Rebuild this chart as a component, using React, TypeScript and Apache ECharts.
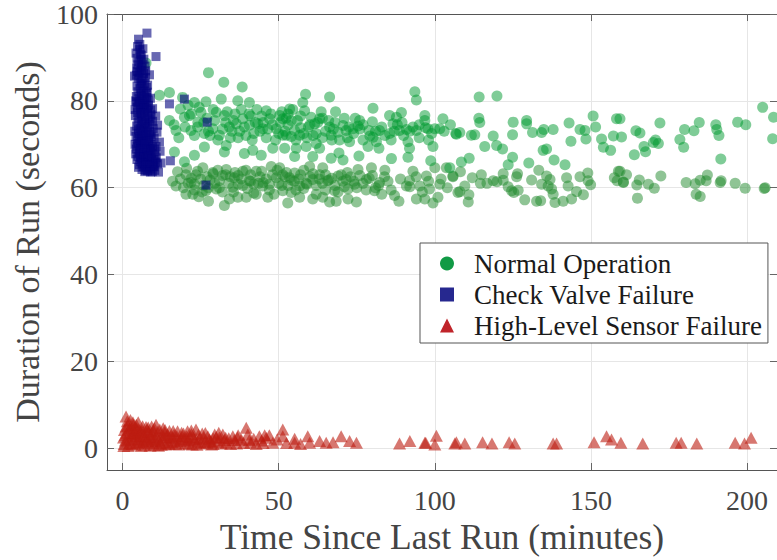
import React, { useEffect, useRef } from "react";
import * as echarts from "echarts";

const xTicks = [0, 50, 100, 150, 200];
const yTicks = [0, 20, 40, 60, 80, 100];

const seriesNames = ["Normal Operation", "Check Valve Failure", "High-Level Sensor Failure"];

// Normal operation, upper band (brighter green)
const normalUpper: number[][] = [
  [27.5, 86.5], [32.4, 84.3], [38.3, 83.2], [7.5, 88.7], [11.8, 81.3], [15, 81.9], [19.2, 80.8], [23, 79.6],
  [26.7, 79.8], [31.6, 80.4], [36.9, 80], [40.6, 79.6], [46, 77.7], [18.5, 78.1], [19.8, 76.2], [15, 75.5],
  [17.1, 73.2], [21.9, 73.2], [24.1, 75.1], [21.4, 76.6], [25.1, 77.4], [30, 77.4], [32.6, 76.6], [34.2, 74],
  [28.9, 73.6], [26.2, 72.5], [31, 72.1], [36.4, 74.7], [38.5, 75.9], [40.6, 74.4], [43.3, 74.7], [44.9, 73.6],
  [47.1, 75.9], [49.2, 73.6], [51.3, 75.9], [52.4, 72.1], [33.2, 69.7], [26.2, 69.4], [32.6, 68.2], [39, 67.9],
  [41.7, 68.6], [44.4, 67.5], [48.1, 69.1], [23, 67.5], [16.6, 68.2], [19.8, 66],
  [58.6, 81.5], [66.3, 80.9], [57.7, 79.6], [93.6, 82.1], [94.1, 80.2], [80.2, 78.3], [68.2, 77.5], [63.6, 77.5],
  [53.5, 78.1], [54.5, 78], [50.3, 76.6], [52.4, 76], [58.3, 77.7], [60.4, 76.2], [61.5, 74.7], [63.1, 75.9],
  [66.3, 74], [66.8, 72.1], [70.6, 74.3], [71.6, 73.2], [73.8, 73.6], [75.9, 75.5], [77, 74.5], [78.9, 73.2],
  [79.2, 71.9], [78.6, 69.5], [81.3, 70.6], [82.1, 69.1], [82.3, 73.2], [85.5, 76.6], [86.6, 74.7], [87.7, 76.2],
  [89.3, 77.3], [85.5, 72.5], [88.7, 73.2], [90.9, 73.4], [91.4, 70.6], [91.9, 69.1], [91.4, 67], [94.1, 73.2],
  [96.8, 76.6], [96.8, 75.5], [97.8, 73.6], [100, 73.6], [101.6, 73.6], [102.6, 75.9], [99.4, 69.5], [98.7, 66.2],
  [106.7, 72.5], [86.1, 66.7], [75.7, 67.3], [69.3, 68], [70.6, 66.4], [66.8, 66.8], [56.7, 72.1], [55.1, 73.2],
  [51.3, 72.1], [55.6, 69.1], [58.8, 69.5], [62, 70.2], [63.1, 69.1], [60.9, 67.2], [55.1, 67.2], [51.9, 69.1],
  [75.4, 74.2], [72.7, 70.6], [80.2, 71.6],
  [114.2, 80.9], [119.9, 81.1], [114.1, 76], [114.4, 75], [106.9, 72.3], [108, 72.7], [111.7, 72.1], [112.8, 72.2],
  [118.7, 71.9], [125.1, 75.1], [129.4, 75.5], [129.4, 74.7], [124.9, 72.2], [131.3, 72.7], [134.2, 72.7], [134.9, 73.4],
  [137.9, 73.4], [135.8, 68.9], [134.7, 68.6], [116, 69.5], [119.8, 69.7], [121.7, 68.9], [124.9, 67], [123.5, 65.3],
  [130.1, 65.7], [138.2, 66.4], [141.7, 65.3], [143, 74.9], [143.6, 70.7], [146.5, 73.4], [148.1, 73.2], [148.4, 71.2],
  [150.7, 76.5], [151.5, 74], [153.4, 71.2], [154, 69.3], [156.3, 68.6], [158.2, 75.9], [157.2, 71.9], [159.8, 71.7],
  [111, 66.8], [108.5, 65.9], [104.8, 64.6],
  [205, 78.5], [208.5, 76.2], [208.2, 71.3], [197, 75.1], [199.6, 74.5], [190, 74.5], [190.3, 73.4], [191, 72],
  [191.6, 66.6], [184.7, 75], [183, 73.1], [180, 73.4], [178.5, 71.1], [179.7, 69.3], [172.1, 74.9], [170.7, 71],
  [170, 70.4], [171.6, 70.2], [167, 69.5], [167.5, 68.3], [163.9, 67.6], [164.4, 73.1], [165.7, 72.6], [159.3, 75.9],
  [22, 77], [24, 74], [27, 76], [28, 72], [29, 78], [33, 75], [35, 73], [36, 77], [37, 71.5], [39, 74], [41, 76.5],
  [42, 72.5], [43, 78], [45, 75], [46, 71.5], [48, 74.5], [50, 72.5], [51, 77.5], [53, 74.5], [54, 71.8], [56, 75.5],
  [57, 73.8], [59, 71.5], [60, 74.5], [62, 72.5], [64, 76], [65, 73], [67, 71], [68, 75], [69, 72.8], [71, 76],
  [72, 71.5], [74, 72.5], [76, 73.5], [77, 71], [80, 75.2], [81, 73], [84, 72], [86, 71], [88, 74.5], [90, 72],
  [93, 74], [95, 71.5], [97, 73.8], [99, 72.5], [103, 73], [105, 74.5],
  [16.5, 74.5], [18, 71.5], [20, 74], [21, 79], [23, 72], [24.5, 78.5], [26, 75], [27.5, 73], [29.5, 75.5], [30.5, 71],
  [32, 73.5], [33.5, 77.5], [34.5, 71.5], [35.5, 75.5], [37.5, 73], [38, 78], [39.5, 72], [40.5, 77], [41.5, 71],
  [42.5, 75], [44, 73], [44.5, 76.5], [46.5, 73.5], [47.5, 77], [49, 71], [50.5, 75], [52, 73], [53, 77], [54, 75.5],
  [55.5, 71], [57, 76.5], [58, 72.5], [59.5, 74], [61, 72], [62.5, 75], [64, 71.5], [66, 75.5], [67.5, 73.5], [69.5, 71],
  [72.5, 74], [74.5, 76], [83, 74], [87, 73], [89.5, 75], [92, 73], [95, 74.5], [98, 71],
];

// Normal operation, lower band (duller green)
const normalLower: number[][] = [
  [17.6, 63.7], [16, 61.5], [17.1, 60.4], [20.3, 63], [23.5, 63], [21.9, 61.2], [25.7, 64.6], [28.9, 63.5],
  [31, 61.6], [33.2, 64.2], [35.8, 62.3], [38.5, 63.8], [40.6, 61.6], [42.8, 63.8], [44.9, 60.4], [47.6, 64.9],
  [49.2, 62.3], [51.3, 59.3], [20.3, 58.5], [22.5, 58.5], [24.4, 57.9], [27.5, 56.9], [32.6, 55.9], [34.2, 57.4],
  [36.9, 57.8], [39.6, 57.8], [42.8, 58.5], [46.5, 57.8], [30, 59.7], [35.3, 60.1], [26.7, 59.3],
  [50.3, 64.6], [51.3, 63], [53.5, 62.3], [55.1, 63.4], [59.9, 64.9], [64.1, 64.6], [63.1, 63], [60.9, 61.9],
  [58.8, 61], [56.7, 60.4], [54, 58.9], [52.9, 56.5], [56.7, 57.8], [60.9, 57.4], [64.1, 57.8], [65.7, 61.6],
  [67.9, 59.3], [69, 62.7], [71.6, 61.9], [72.2, 59.7], [75.4, 64.2], [74.3, 60.8], [74.9, 56.7], [72.2, 57.4],
  [68.4, 56.9], [78.1, 61.9], [79.7, 64.6], [80.7, 59.3], [82.3, 61.2], [83.9, 62.5], [87.1, 58.2], [88.5, 56.9],
  [90.9, 60.4], [91.9, 61.6], [93, 63.8], [94.1, 57.4], [95.2, 60.4], [97.3, 62.7], [96.8, 57.4], [99.4, 56.5],
  [98.3, 59.7], [101, 57.8], [101.6, 60.8], [103.7, 64.6], [105.8, 62.7], [107.4, 58.9], [100, 64.6], [66.3, 56.7],
  [105.8, 62.5], [108.2, 63.7], [109.6, 60.4], [108, 59.1], [110.9, 58.4], [110.7, 56.7], [112, 62.3], [114.9, 63],
  [114.6, 61], [116.7, 61], [118.7, 61.6], [119.9, 61.4], [121.9, 63.2], [121.9, 61.7], [123.5, 60.2], [124.6, 59.3],
  [125.3, 58.9], [126.7, 59.4], [126.5, 63.2], [126.2, 62.5], [128.8, 57.2], [131, 61.8], [133.3, 64], [132.6, 56.9],
  [133.9, 57], [134.2, 60.8], [135.8, 62.7], [136.3, 60.4], [136.9, 61.9], [137.4, 59.7], [137.9, 58.5], [138.5, 56.6],
  [141.1, 56.9], [142.2, 62.3], [142.7, 60.4], [143.8, 57.4], [145.4, 59.1], [146.5, 62.5], [147.6, 58.4], [149, 63.4],
  [149.1, 61.6], [149.9, 60.7], [157.5, 62.3], [158.8, 63.8], [158.4, 61.6], [160.4, 61.2],
  [205.8, 60], [205.5, 59.8], [199.4, 59.9], [196.2, 61], [191.7, 61.6], [191.4, 61.2], [187.3, 62.9], [186.9, 61.6],
  [185, 61.7], [183.4, 60.9], [180.5, 61.2], [183.7, 58.5], [185, 58], [172.4, 62.7], [170.3, 59.9], [168.4, 60.8],
  [165.5, 61.8], [164.7, 60.6], [164.9, 57.6], [161.4, 63], [160.4, 61.3], [159.3, 63.8],
  [21, 61], [23, 59.5], [25, 62], [26, 60.5], [28, 61.8], [29, 63.2], [31, 60], [32, 62.8], [34, 61], [36, 63.5],
  [37, 60.8], [38, 62], [40, 59.8], [41, 63], [42, 60.8], [44, 62.5], [45, 61.2], [47, 59.5], [48, 63], [50, 61],
  [52, 62.5], [53, 60.5], [55, 61.5], [57, 63], [58, 59.8], [60, 62.5], [62, 60.5], [63, 62], [65, 59.5], [66, 61.8],
  [68, 60.5], [70, 63], [71, 60.2], [73, 62.5], [75, 60], [77, 61], [79, 62.2], [81, 60], [83, 58.5], [85, 61.5],
  [86, 59.5], [89, 62], [92, 60.2], [94, 62.5], [96, 59], [98, 61.5], [102, 62], [104, 60],
  [18.5, 62], [19.5, 60], [20.5, 64.5], [22, 62.2], [23, 60.8], [24, 63.8], [25.5, 59], [27, 62.5], [27.5, 60],
  [29.5, 61], [30.5, 64], [32, 59], [33, 63], [34.5, 62.5], [35.5, 59], [37, 62.8], [38.5, 60.5], [39.5, 64], [41, 61.5],
  [42, 58.8], [43.5, 61], [44.5, 63.8], [46, 62], [47, 60.8], [48.5, 58.5], [49.5, 64], [51, 60.5], [52.5, 63.5],
  [54, 61.8], [55.5, 59.5], [56.5, 62], [58, 64], [59, 60.8], [61, 63.2], [62, 58.5], [64, 61], [65, 63], [67, 62.2],
  [69, 59], [70.5, 61.5], [72, 63.5], [74, 61.5], [76, 62.8], [78, 59.5], [80, 62.8], [82, 60.5], [84, 64],
];

const checkValve: number[][] = [
  [5.1, 94.2], [7.8, 95.6], [4.8, 92.5], [5.5, 91.8], [6.0, 90.5], [4.6, 89.8], [5.2, 89.0], [6.3, 88.4], [4.5, 87.6],
  [5.8, 87.0], [6.7, 86.3], [4.4, 85.9], [3.8, 85.7], [5.0, 85.2], [6.0, 84.6], [7.0, 84.0], [4.6, 83.4], [5.6, 82.8],
  [6.8, 82.3], [7.6, 81.7], [4.4, 81.0], [5.3, 80.5], [6.4, 80.0], [7.5, 79.6], [8.3, 79.0], [4.7, 78.5], [5.8, 78.0],
  [6.9, 77.6], [8.0, 77.2], [9.1, 76.8], [4.1, 76.6], [5.2, 76.0], [6.3, 75.5], [7.4, 75.0], [8.5, 74.6], [4.5, 74.2],
  [5.6, 73.6], [6.7, 73.1], [7.9, 72.7], [9.1, 72.3], [4.3, 71.8], [5.4, 71.3], [6.6, 70.9], [7.8, 70.4], [9.0, 70.0],
  [4.6, 69.6], [5.7, 69.1], [6.9, 68.7], [8.1, 68.3], [9.3, 67.9], [10.4, 67.5], [4.9, 67.2], [6.1, 66.8], [7.3, 66.4],
  [8.5, 66.0], [9.7, 65.6], [5.4, 65.3], [6.6, 64.9], [7.8, 64.6], [9.0, 64.3], [10.1, 64.8], [11.5, 63.6], [15.3, 66.2],
  [10.7, 69.5], [9.1, 71.7], [11.2, 74.4], [15.0, 79.3], [19.8, 80.4], [10.7, 90.2], [8.6, 86.0], [27.1, 75.1], [26.7, 60.6],
  [5.5, 93], [6.5, 92], [5.9, 89.5], [7.2, 88], [5.3, 86.5], [6.2, 83.5], [7.9, 82], [5.0, 79.5], [6.0, 76.8], [7.0, 79],
  [8.8, 75.8], [5.0, 72.5], [6.0, 72], [7.2, 74], [8.4, 71.2], [5.0, 70.2], [6.2, 70.5], [7.5, 69.5], [8.7, 69], [5.3, 68],
  [6.4, 67.6], [7.6, 67.3], [8.8, 66.9], [10.0, 66.5], [5.8, 66], [7.0, 65.6], [8.2, 65.3], [9.4, 65], [10.6, 65.9],
  [6.2, 64.2], [8.0, 63.9], [9.5, 63.7], [12.0, 68.4], [11.0, 72.8], [9.6, 78.2], [8.9, 80.6], [8.0, 83.6], [7.3, 85.4],
  [4.2, 80], [4.0, 78], [3.9, 73], [4.0, 70], [4.2, 67.8], [6.5, 78.8], [7.7, 80.8], [5.9, 81.6], [6.6, 71.9], [7.1, 63.7],
  [4.3, 91], [5.7, 90.8], [6.8, 89.6], [4.9, 88.3], [6.1, 87.5], [7.4, 86.9], [4.7, 86.8], [5.6, 84.1], [6.5, 85.2],
  [7.6, 83.1], [4.9, 82.1], [6.0, 81.2], [7.0, 80.9], [8.2, 80.2], [4.5, 79.8], [5.6, 79.2], [6.8, 78.4], [7.9, 78.3],
  [9.0, 77.9], [4.8, 77.3], [5.9, 77.1], [7.1, 76.4], [8.2, 76.0], [9.6, 75.3], [4.9, 75.1], [6.0, 74.6], [7.0, 74.8],
  [8.1, 73.9], [9.8, 73.6], [5.1, 73.3], [6.3, 72.6], [7.4, 72.1], [8.6, 72.9], [10.1, 71.4], [4.8, 71.0], [5.9, 70.6],
  [7.1, 70.0], [8.3, 70.8], [9.6, 69.4], [4.4, 68.9], [5.5, 68.5], [6.7, 68.1], [7.9, 68.9], [9.0, 68.6], [10.2, 68.9],
  [4.6, 66.5], [5.7, 67.0], [6.9, 67.0], [8.1, 67.4], [9.3, 66.6], [10.8, 66.9], [5.1, 64.7], [6.3, 65.6], [7.5, 65.2],
  [8.7, 64.9], [9.9, 65.0], [11.2, 65.5], [7.3, 64.0], [8.9, 63.6], [10.3, 64.0], [12.3, 65.7], [11.8, 70.5], [10.6, 76.5],
];

const sensorFailure: number[][] = [
  [0.5, 1], [0.8, 3], [1.1, 5], [1.1, 7.3], [1.5, 6.2], [2, 2], [2.2, 4.5], [2.5, 6.5], [3, 1], [3.2, 3.5], [3.5, 5.5],
  [4, 0.8], [4.2, 2.8], [4.5, 4.6], [5, 6], [5.5, 1.5], [5.8, 3.8], [6.4, 5.1], [7, 0.8], [7.2, 2.5], [7.8, 4.3],
  [8.5, 1.2], [8.8, 3.2], [9.3, 5.0], [10, 0.8], [10.3, 2.2], [10.7, 5.4], [11.2, 3.8], [12, 1.2], [12.5, 3.0], [13, 4.6],
  [13.8, 0.9], [14.2, 2.4], [15, 4.0], [15.8, 1.4], [16.5, 3.2], [17.6, 3.9], [18, 0.9], [18.7, 2.2], [19.5, 3.4],
  [20.2, 1.2], [20.8, 3.9], [21.5, 2.6], [22.3, 0.9], [23.5, 4.3], [23, 2], [24.3, 3.1], [25, 1.1], [26, 2.4], [27.8, 2.0],
  [28.5, 0.9], [29.5, 3.2], [30.5, 1.5], [32.1, 3.2], [33.2, 1.3], [34, 2.3], [35.3, 2.8], [36.5, 1.1], [38, 2], [39.6, 4.7],
  [40.1, 3.2], [41, 1.3], [42, 2.2], [43.8, 2.8], [45, 1.2], [46, 2.4], [48.1, 1.3], [49.5, 2.0], [51.3, 4.3], [51.3, 2.8],
  [52.5, 1.2], [55.1, 1.3], [55.1, 2.2], [57, 1.0], [59.3, 2.8], [59.9, 1.3], [63.1, 1.7], [65.2, 1.3], [67.4, 1.4], [70, 2.8],
  [72.7, 1.7], [74.9, 1.3], [88.7, 1.1], [92, 1.7], [96.8, 1.3], [97.1, 1.3], [100.5, 2.9], [100, 0.9], [106.4, 1.1],
  [106.9, 1.4], [109.6, 1.1], [115.3, 1.4], [118.3, 1.1], [123.8, 1.4], [125.6, 1.1], [137.9, 1.1], [139, 1.1], [151, 1.4],
  [155, 2.8], [156.6, 2.0], [159.6, 1.3], [166.6, 1.1], [177.3, 1.3], [178.9, 1.3], [183.9, 1.1], [196.2, 1.3], [199.2, 1.1],
  [201.3, 2.4],
  [0.3, 2.5], [0.6, 4.2], [1.8, 0.5], [2.8, 2.8], [3.8, 4.0], [4.8, 3.2], [5.2, 2.0], [6, 0.5], [6.8, 3.6], [7.5, 1.8],
  [8.2, 4.8], [9, 2.6], [9.8, 4], [10.5, 1.5], [11.5, 0.6], [12.8, 2], [13.5, 3.6], [14.6, 1.3], [16, 2.4], [17, 1.0],
  [19, 2.8], [21, 1.8], [22, 3.3], [24, 1.5], [26.5, 3.5], [27, 1.3], [29, 2.3], [31, 2.5], [33, 2.4], [37, 3.0],
  [38.8, 1.2], [44.5, 1.8], [47, 3.0],
  [0.4, 0.5], [0.9, 1.8], [1.4, 3.6], [1.7, 5.2], [2.3, 1.2], [2.6, 3.3], [3.0, 4.8], [3.3, 6.0], [3.6, 2.1], [4.0, 3.6],
  [4.4, 5.4], [4.7, 1.2], [5.2, 4.4], [5.6, 2.8], [6.1, 4.0], [6.6, 1.5], [7.0, 3.0], [7.5, 4.9], [8.0, 2.2], [8.3, 3.8],
  [8.8, 0.6], [9.4, 1.8], [9.6, 3.4], [10.2, 4.6], [10.9, 2.8], [11.6, 1.8], [11.9, 4.3], [12.4, 0.8], [13.2, 2.6],
  [13.6, 4.2], [14.4, 3.2], [14.9, 1.0], [15.5, 2.8], [16.2, 4.0], [16.8, 1.8], [17.4, 2.8], [18.3, 1.6], [18.9, 3.6],
  [19.8, 2.0], [20.5, 2.8], [21.3, 1.0], [22.0, 4.1], [22.7, 2.4], [23.8, 0.8], [24.6, 2.2], [25.5, 3.4], [26.3, 1.4],
  [27.3, 2.8], [28.2, 1.6], [29.0, 1.0], [30.0, 2.6], [30.8, 3.6], [31.6, 1.1], [32.6, 1.9], [34.6, 1.0], [35.8, 1.9],
  [36.8, 2.5], [40.6, 1.9], [42.8, 1.0], [45.5, 3.0],
];

const FONT = "'Liberation Serif', 'Times New Roman', serif";

export default function App() {
  const ref = useRef<HTMLDivElement>(null);
  useEffect(() => {
    if (!ref.current) return;
    const chart = echarts.init(ref.current, null, { renderer: "svg" });
    const axisLineStyle = { color: "#555555", width: 1 };
    const tickStyle = { inside: true, length: 7, lineStyle: { color: "#666666", width: 1 } };
    chart.setOption({
      animation: false,
      backgroundColor: "#ffffff",
      textStyle: { fontFamily: FONT },
      grid: { left: 107, right: 0, top: 13, bottom: 82, containLabel: false },
      legend: {
        orient: "vertical",
        left: 420,
        top: 243,
        padding: [7, 6, 4, 20],
        itemGap: 4,
        itemWidth: 14,
        itemHeight: 14,
        backgroundColor: "#ffffff",
        borderColor: "#555555",
        borderWidth: 1,
        borderRadius: 0,
        itemStyle: { opacity: 1 },
        textStyle: { fontFamily: FONT, fontSize: 27, lineHeight: 27, color: "#1a1a1a", padding: [0, 0, 0, 15] },
        data: [
          { name: seriesNames[0], icon: "circle", itemStyle: { color: "#119a45", opacity: 1 } },
          { name: seriesNames[1], icon: "rect", itemStyle: { color: "#26288f", opacity: 1 } },
          { name: seriesNames[2], icon: "triangle", itemStyle: { color: "#c0242a", opacity: 1 } },
        ],
      },
      xAxis: [
        {
          type: "value",
          min: -5,
          max: 209.6,
          name: "Time Since Last Run (minutes)",
          nameLocation: "middle",
          nameGap: 49,
          nameTextStyle: { fontFamily: FONT, fontSize: 35.5, color: "#444444" },
          axisLine: { show: true, onZero: false, lineStyle: axisLineStyle },
          axisTick: { ...tickStyle, customValues: xTicks },
          axisLabel: { customValues: xTicks, fontFamily: FONT, fontSize: 28, color: "#444444", margin: 16 },
          splitLine: { show: true, lineStyle: { color: "#e6e6e6", width: 1 } },
        },
        {
          type: "value",
          position: "top",
          min: -5,
          max: 209.6,
          axisLine: { show: true, onZero: false, lineStyle: axisLineStyle },
          axisTick: { ...tickStyle, customValues: xTicks },
          axisLabel: { show: false },
          splitLine: { show: false },
        },
      ],
      yAxis: [
        {
          type: "value",
          min: -5,
          max: 100,
          name: "Duration of Run (seconds)",
          nameLocation: "middle",
          nameGap: 63,
          nameTextStyle: { fontFamily: FONT, fontSize: 34, color: "#444444" },
          axisLine: { show: true, onZero: false, lineStyle: axisLineStyle },
          axisTick: { ...tickStyle, customValues: yTicks },
          axisLabel: { customValues: yTicks, fontFamily: FONT, fontSize: 28, color: "#444444", margin: 9 },
          splitLine: { show: true, lineStyle: { color: "#e6e6e6", width: 1 } },
        },
        {
          type: "value",
          position: "right",
          min: -5,
          max: 100,
          axisLine: { show: true, onZero: false, lineStyle: axisLineStyle },
          axisTick: { ...tickStyle, customValues: yTicks },
          axisLabel: { show: false },
          splitLine: { show: false },
        },
      ],
      series: [
        {
          name: seriesNames[0],
          type: "scatter",
          symbol: "circle",
          symbolSize: 11,
          data: normalLower,
          itemStyle: { color: "#1f8a2c", opacity: 0.5 },
        },
        {
          name: seriesNames[0],
          type: "scatter",
          symbol: "circle",
          symbolSize: 11,
          data: normalUpper,
          itemStyle: { color: "#009a30", opacity: 0.5 },
        },
        {
          name: seriesNames[1],
          type: "scatter",
          symbol: "rect",
          symbolSize: 9,
          data: checkValve,
          itemStyle: { color: "#04047f", opacity: 0.6 },
        },
        {
          name: seriesNames[2],
          type: "scatter",
          symbol: "triangle",
          symbolSize: [13, 12],
          data: sensorFailure,
          itemStyle: { color: "#bc1c10", opacity: 0.6 },
        },
      ],
    });
    return () => chart.dispose();
  }, []);
  return <div ref={ref} style={{ position: "fixed", left: 0, top: 0, width: 777, height: 560 }} />;
}
